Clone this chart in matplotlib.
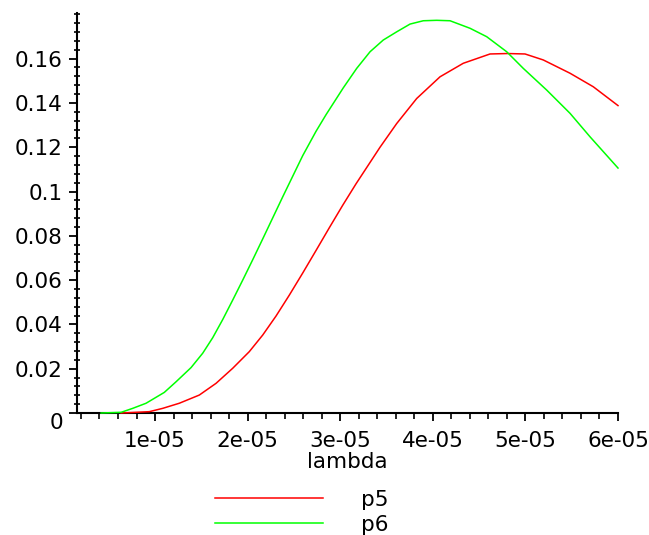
import matplotlib
matplotlib.use("Agg")
import matplotlib.pyplot as plt
import matplotlib.transforms as mtransforms
from matplotlib.ticker import MultipleLocator, FixedLocator, FuncFormatter

# data (lambda values, probabilities)
lam_p5 = [0.633e-5, 0.938e-5, 1.083e-5, 1.262e-5, 1.478e-5, 1.659e-5, 1.839e-5, 2.018e-5,
          2.163e-5, 2.307e-5, 2.450e-5, 2.595e-5, 2.739e-5, 2.883e-5, 3.027e-5, 3.171e-5,
          3.430e-5, 3.610e-5, 3.826e-5, 4.078e-5, 4.329e-5, 4.618e-5, 4.807e-5,
          4.996e-5, 5.193e-5, 5.482e-5, 5.733e-5, 6.0e-5]
p5 = [0.0, 0.0006, 0.0021, 0.0044, 0.0081, 0.0134, 0.0202, 0.0277,
      0.0352, 0.0438, 0.0532, 0.0632, 0.0734, 0.0837, 0.0938, 0.1035,
      0.1200, 0.1307, 0.1420, 0.1518, 0.1579, 0.1621, 0.1623,
      0.1621, 0.1594, 0.1534, 0.1473, 0.1388]

lam_p6 = [0.417e-5, 0.633e-5, 0.759e-5, 0.903e-5, 1.100e-5, 1.227e-5, 1.389e-5, 1.515e-5,
          1.623e-5, 1.731e-5, 1.839e-5, 1.947e-5, 2.055e-5, 2.163e-5, 2.271e-5, 2.379e-5,
          2.487e-5, 2.595e-5, 2.739e-5, 2.847e-5, 3.033e-5, 3.178e-5, 3.322e-5,
          3.465e-5, 3.610e-5, 3.754e-5, 3.897e-5, 4.042e-5, 4.186e-5, 4.402e-5, 4.582e-5,
          4.798e-5, 4.977e-5, 5.230e-5, 5.482e-5, 5.698e-5, 6.0e-5]
p6 = [0.0, 0.0003, 0.0021, 0.0044, 0.0093, 0.0141, 0.0205, 0.0270,
      0.0340, 0.0422, 0.0510, 0.0600, 0.0692, 0.0786, 0.0881, 0.0976,
      0.1069, 0.1162, 0.1272, 0.1347, 0.1468, 0.1556, 0.1631,
      0.1684, 0.1721, 0.1756, 0.1771, 0.1773, 0.1771, 0.1737, 0.1699,
      0.1631, 0.1556, 0.1458, 0.1353, 0.1247, 0.1106]

x_ticks = [1e-5, 2e-5, 3e-5, 4e-5, 5e-5, 6e-5]
y_ticks = [0, 0.02, 0.04, 0.06, 0.08, 0.1, 0.12, 0.14, 0.16]
series_labels = ["p5", "p6"]
x_label = "lambda"

W, H = 649, 535
fig = plt.figure(figsize=(W / 100, H / 100), dpi=100)
left, right, top, bottom = 76.7, 618, 13, 413
ax = fig.add_axes([left / W, 1 - bottom / H, (right - left) / W, (bottom - top) / H])

red, = ax.plot(lam_p5, p5, color="#ff0000", lw=1.1, label=series_labels[0],
               zorder=3, clip_on=False)
green, = ax.plot(lam_p6, p6, color="#00ff00", lw=1.1, label=series_labels[1],
                 zorder=3, clip_on=False)

ax.set_xlim(0.154e-5, 6e-5)
ax.set_ylim(0, 0.1806)

for s in ["top", "right"]:
    ax.spines[s].set_visible(False)
for s in ["left", "bottom"]:
    ax.spines[s].set_linewidth(1.5)
    ax.spines[s].set_color("black")
    ax.spines[s].set_zorder(2)

ax.xaxis.set_major_locator(FixedLocator(x_ticks))
ax.xaxis.set_minor_locator(MultipleLocator(0.2e-5))
ax.yaxis.set_major_locator(FixedLocator(y_ticks))
ax.yaxis.set_minor_locator(MultipleLocator(0.004))
ax.xaxis.set_major_formatter(FuncFormatter(lambda v, p: f"{v:.0e}"))
ax.yaxis.set_major_formatter(FuncFormatter(lambda v, p: f"{v:g}"))

ax.tick_params(axis="both", which="major", direction="out", length=6, width=1.3,
               labelsize=15.5, colors="black")
ax.tick_params(axis="x", which="major", pad=7)
ax.tick_params(axis="y", which="major", pad=4)
ax.tick_params(axis="x", which="minor", direction="out", length=4, width=1.2)
ax.tick_params(axis="y", which="minor", direction="inout", length=5, width=1.2)

ax.set_xlabel(x_label, fontsize=15.5, labelpad=1)

# Maple puts the "0" label a little below the axis line
fig.canvas.draw()
for lbl in ax.get_yticklabels():
    if lbl.get_text() == "0":
        lbl.set_transform(lbl.get_transform() +
                          mtransforms.ScaledTranslation(0, -8 / 100, fig.dpi_scale_trans))

fig.legend(handles=[red, green], labels=series_labels, loc="upper left",
           bbox_to_anchor=(215 / W, 1 - 490 / H), frameon=False, fontsize=15.5,
           handlelength=5.0, handletextpad=1.8, labelspacing=0.22,
           borderpad=0, borderaxespad=0)

fig.savefig("out.png", dpi=100)
